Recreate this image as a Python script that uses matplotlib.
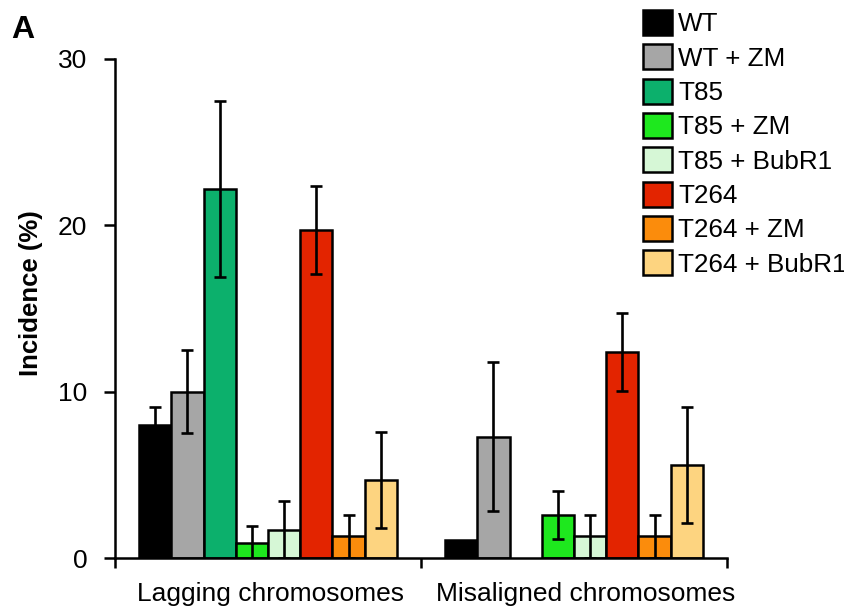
import matplotlib
matplotlib.use("Agg")
import matplotlib.pyplot as plt
import matplotlib.transforms as mtransforms
import numpy as np
from matplotlib.patches import Patch

plt.rcParams['font.family'] = ['Liberation Sans', 'DejaVu Sans']

categories = ["Lagging chromosomes", "Misaligned chromosomes"]
series = ["WT", "WT + ZM", "T85", "T85 + ZM", "T85 + BubR1",
          "T264", "T264 + ZM", "T264 + BubR1"]
colors = ["#000000", "#a6a6a6", "#0cb06c", "#1ee81e", "#d6f7d6",
          "#e32400", "#fb8c0c", "#fdd480"]
# values per series: [lagging, misaligned]
values = {
    "WT":           [8.0, 1.1],
    "WT + ZM":      [10.0, 7.3],
    "T85":          [22.2, 0.0],
    "T85 + ZM":     [0.9, 2.6],
    "T85 + BubR1":  [1.7, 1.3],
    "T264":         [19.7, 12.4],
    "T264 + ZM":    [1.3, 1.3],
    "T264 + BubR1": [4.7, 5.6],
}
errors = {
    "WT":           [1.1, 0.0],
    "WT + ZM":      [2.5, 4.5],
    "T85":          [5.3, 0.0],
    "T85 + ZM":     [1.0, 1.45],
    "T85 + BubR1":  [1.7, 1.3],
    "T264":         [2.65, 2.33],
    "T264 + ZM":    [1.3, 1.3],
    "T264 + BubR1": [2.9, 3.47],
}
yticks = [0, 10, 20, 30]

fig = plt.figure(figsize=(8.45, 6.12), dpi=100)
ax = fig.add_axes([115/845, 1-558/612, (727-115)/845, (558-59)/612])

n = len(series)
gap = 1.5
w = 1.0 / (n + gap)
x0 = np.arange(len(categories))
for i, s in enumerate(series):
    xs = x0 + gap * w / 2 + (i + 0.5) * w
    vals = np.array(values[s])
    errs = np.array(errors[s])
    mask = vals > 0
    ax.bar(xs[mask], vals[mask], width=w, color=colors[i], edgecolor="black",
           linewidth=1.8, zorder=2)
    emask = errs > 0
    ax.errorbar(xs[emask], vals[emask], yerr=errs[emask], fmt="none",
                ecolor="black", elinewidth=1.9, capsize=4.5, capthick=1.9, zorder=3)

ax.set_xlim(0, len(categories))
ax.set_ylim(0, 30)
ax.set_yticks(yticks)
ax.set_yticklabels([str(t) for t in yticks], fontsize=19)
ax.tick_params(axis="y", direction="out", length=8, width=1.8, pad=12)
ax.set_xticks(np.arange(len(categories) + 1))
ax.set_xticklabels([])
ax.tick_params(axis="x", which="major", direction="out", length=7, width=1.8)
ax.set_xticks(x0 + 0.5, minor=True)
ax.set_xticklabels(categories, minor=True, fontsize=19)
ax.tick_params(axis="x", which="minor", length=0, pad=17)
# small horizontal nudges of the category labels (in pixels)
for lab, dx in zip(ax.get_xticklabels(minor=True), [3, 12]):
    lab.set_transform(lab.get_transform() +
                      mtransforms.ScaledTranslation(dx/100, 0, fig.dpi_scale_trans))
for sp in ["top", "right"]:
    ax.spines[sp].set_visible(False)
for sp in ["left", "bottom"]:
    ax.spines[sp].set_linewidth(1.8)

fig.text(31/845, 1-293/612, "Incidence (%)", rotation=90, fontsize=18.5,
         fontweight="bold", ha="center", va="center")
fig.text(11/845, 1-38/612, "A", fontsize=23, fontweight="bold",
         ha="left", va="baseline")

handles = [Patch(facecolor=c, edgecolor="black", linewidth=1.8) for c in colors]
fig.legend(handles, series, loc="upper left",
           bbox_to_anchor=(643/845, 1-10/612), bbox_transform=fig.transFigure,
           frameon=False, fontsize=18.7, handlelength=1.1, handleheight=1.1,
           handletextpad=0.25, labelspacing=0.31, borderpad=0, borderaxespad=0)

fig.savefig("out.png", dpi=100)
